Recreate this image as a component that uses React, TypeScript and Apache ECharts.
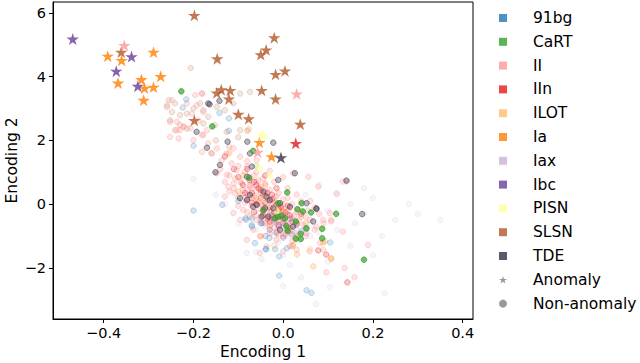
import React, { useEffect, useRef } from "react";
import * as echarts from "echarts";

// ---------- data ----------
const classNames = ["91bg", "CaRT", "II", "IIn", "ILOT", "Ia", "Iax", "Ibc", "PISN", "SLSN", "TDE"];
const classColors = ["#1f78b4", "#33a02c", "#fb9a99", "#e31a1c", "#fdbf6f", "#ff7f00", "#cab2d6", "#6a3d9a", "#ffff99", "#b15928", "#352f45"];
const circleAlpha = [0.22, 0.85, 0.33, 0.3, 0.3, 0.22, 0.16, 0.22, 0.6, 0.18, 0.45];

// non-anomaly points (Encoding 1, Encoding 2)
const pts91bg = [
  [-0.2, -0.2], [-0.121, 2.3], [-0.224, 3.03], [-0.2, 1.83], [-0.216, 3.29], [-0.142, 2.86], [-0.121, 2.69],
  [-0.136, -0.02], [-0.063, -1.22], [-0.038, -1.41], [-0.009, -1.64], [-0.009, -2.24], [0.052, -2.7], [0.063, -2.78],
  [0.105, -1.2], [-0.018, -1.41], [-0.07, -0.44], [-0.083, -0.49], [-0.07, -0.65], [-0.048, -0.59], [-0.031, -1.06],
  [0.008, -1.38], [-0.084, -0.44], [-0.07, -0.7], [-0.039, -1.41], [-0.1, 0.1], [-0.06, 1.2],
];
const ptsCaRT = [
  [-0.227, 3.54], [-0.158, 2.44], [-0.067, 1.67], [-0.076, 0.83], [0.009, 0.37], [0.041, 0.03], [-0.011, 0.03],
  [0.032, -0.16], [0.044, -0.23], [0.062, -0.26], [-0.044, -0.18], [-0.018, -0.44], [0.004, -0.44], [0.028, -0.54],
  [0.007, -0.68], [0.01, -0.83], [0.039, -0.93], [0.052, -0.76], [0.087, -0.77], [0.028, -1.08], [0.039, -1.09],
  [0.087, -1.07], [0.118, -0.3], [0.18, -1.74], [-0.012, -0.4], [-0.005, -0.36],
];
const ptsII = [
  [-0.259, 3.1], [-0.248, 3.26], [-0.215, 3.16], [-0.196, 3.42], [-0.181, 3.47], [-0.193, 3.1], [-0.178, 2.89],
  [-0.252, 2.58], [-0.237, 2.58], [-0.222, 2.43], [-0.207, 2.38], [-0.23, 2.32], [-0.181, 2.17], [-0.17, 2.32],
  [-0.204, 2.84], [-0.189, 2.63],
  [-0.237, 2.32], [-0.222, 2.43], [-0.252, 2.11], [-0.233, 2.06], [-0.2, 2.01], [-0.178, 2.17], [-0.167, 1.91],
  [-0.148, 1.75], [-0.181, 1.64], [-0.159, 1.59], [-0.126, 1.59], [-0.111, 1.75], [-0.137, 1.38], [-0.115, 1.28],
  [-0.096, 1.49], [-0.104, 1.07], [-0.081, 1.18], [-0.059, 1.38], [-0.148, 0.97], [-0.126, 0.92], [-0.107, 0.81],
  [-0.092, 0.66], [-0.074, 0.55], [-0.122, 0.55], [-0.107, 0.34], [-0.13, 0.24], [-0.089, -0.18], [-0.074, -0.39],
  [-0.059, -0.49], [-0.096, -0.49], [-0.111, -0.28], [-0.044, -0.59], [-0.03, -0.91], [-0.067, -0.8], [-0.052, -1.01],
  [-0.015, -1.12], [0.0, -0.91], [0.015, -1.32], [0.03, -1.43], [0.052, -0.91], [0.074, -0.7], [0.089, -0.49],
  [0.104, -0.28], [0.141, 0.71], [0.119, 0.34], [0.107, -0.49], [0.082, -1.22], [0.059, -1.48], [0.0, -1.48],
  [-0.037, -1.32], [-0.081, -1.12], [-0.052, -1.53],
  [-0.09, 0.45], [-0.08, 0.3], [-0.07, 0.2], [-0.06, 0.1], [-0.05, 0.0], [-0.04, -0.1], [-0.03, -0.2], [-0.02, -0.3],
  [-0.01, -0.4], [0.0, -0.5], [0.01, -0.6], [0.02, -0.7], [-0.1, 0.2], [-0.085, 0.05], [-0.07, -0.05], [-0.055, -0.15],
  [-0.045, -0.3], [-0.03, -0.45], [-0.015, -0.55], [0.0, -0.7], [0.015, -0.85], [-0.06, 0.4], [-0.045, 0.3],
  [-0.035, 0.15], [-0.02, 0.05], [-0.005, -0.05], [0.01, -0.2], [0.025, -0.35], [0.035, -0.5], [0.045, -0.65],
  [-0.075, 0.6], [-0.06, 0.7], [-0.05, 0.55], [-0.03, 0.45], [-0.015, 0.25], [0.0, 0.15], [0.02, 0.0], [0.03, -0.15],
  [0.05, -0.4], [-0.11, 0.65], [-0.12, 0.4], [-0.1, -0.05], [-0.08, -0.25], [-0.06, -0.35], [-0.04, -0.6],
  [-0.02, -0.75], [0.005, -0.95], [0.03, -1.0], [-0.065, 0.9], [-0.045, 0.8], [-0.02, 0.7], [0.01, 0.5], [0.03, 0.3],
  [0.06, 0.1], [0.07, -0.1], [0.08, -0.3], [-0.085, 1.0], [-0.03, 1.05], [0.0, 0.85],
  [0.133, 0.71], [0.078, 0.55], [0.056, 0.86], [0.107, -0.54], [0.133, -0.86], [0.089, -1.43], [0.022, 0.97],
  [0.137, -2.0], [0.096, -2.14], [0.159, -2.29], [0.189, -1.28],
];
const ptsIIcore = [
  [-0.05, 0.35], [-0.04, 0.25], [-0.03, 0.1], [-0.02, -0.05], [-0.01, -0.2], [0.0, -0.25], [0.01, -0.35], [0.02, -0.45],
  [-0.065, 0.25], [-0.055, 0.05], [-0.045, -0.05], [-0.035, -0.25], [-0.025, -0.4], [-0.01, -0.5], [0.005, -0.6],
  [0.015, -0.75], [0.025, -0.9], [-0.08, 0.45], [-0.07, 0.5], [-0.04, 0.4], [-0.02, 0.2], [0.0, 0.0], [0.015, -0.1],
  [0.03, -0.25], [0.04, -0.4], [-0.09, 0.3], [-0.095, 0.7], [-0.075, 0.85], [-0.055, 0.75], [-0.04, 0.65],
  [-0.01, 0.35], [0.01, 0.2], [0.04, 0.1], [0.055, -0.2], [0.06, -0.5], [-0.05, -0.5], [-0.03, -0.65],
  [-0.015, -0.85], [0.0, -1.0], [0.02, -1.15], [-0.12, 0.9], [-0.1, 1.2], [-0.08, 1.35], [-0.06, 1.0], [-0.11, 0.5],
  [-0.13, 0.7], [-0.14, 1.1], [0.05, -1.0], [0.07, -0.8], [0.09, -0.6],
];
const ptsIIn = [
  [-0.07, 0.35], [-0.05, 0.2], [-0.04, 0.05], [-0.03, -0.1], [-0.02, -0.25], [-0.06, 0.0], [-0.08, 0.15], [-0.045, -0.2],
  [-0.01, -0.15], [0.0, -0.35], [-0.025, 0.3], [-0.055, 0.5], [-0.09, 0.6], [-0.035, -0.45], [0.01, -0.05],
  [-0.065, -0.25], [-0.1, 0.85], [-0.015, 0.5], [0.02, -0.55], [-0.075, 0.75], [0.143, -2.45], [0.096, -1.58],
  [0.078, -1.45], [-0.11, 1.1], [-0.13, 1.5], [0.04, -0.3],
  [-0.06, 0.6], [-0.05, 0.45], [-0.035, 0.35], [-0.025, 0.15], [-0.015, 0.0], [-0.005, -0.1], [0.005, -0.25],
  [0.015, -0.35], [-0.045, -0.35], [-0.03, -0.55], [-0.01, -0.65], [0.01, -0.75], [-0.07, 0.05], [-0.085, 0.35],
  [-0.065, 0.7], [-0.04, 0.9], [-0.08, 1.1], [-0.02, -0.45], [0.0, -0.45], [0.03, -0.6],
];
const ptsILOT = [[0.01, -0.9], [-0.02, -1.3], [0.06, -1.4], [-0.045, 0.15], [0.04, -0.2]];
const ptsIa = [
  [0.021, -1.32], [0.107, -1.72], [0.067, -1.95], [0.031, -1.58], [0.089, -1.2], [-0.077, 2.35], [0.093, -1.17],
  [0.022, -1.27], [0.107, -1.69], [-0.03, -0.7], [-0.01, -0.95], [0.05, -0.6], [-0.06, 0.2], [-0.09, 0.9],
  [-0.12, 1.6], [0.0, -0.2], [-0.04, 0.6], [0.03, -1.1], [-0.05, -1.0], [-0.1, 0.4],
];
const ptsIax = [
  [-0.02, -0.6], [0.0, -0.8], [-0.03, -0.9], [0.01, -1.0], [0.02, -0.5], [-0.04, -0.7], [0.03, -0.8], [-0.01, -1.2],
  [0.04, -1.1], [-0.05, -0.4], [0.0, -0.3], [0.05, -0.9], [-0.06, -0.8], [0.02, -1.3], [-0.02, -1.0], [0.06, -0.6],
  [0.08, -0.9], [-0.03, -0.3],
  [0.08, 0.6], [0.12, 0.3], [0.15, 0.0], [0.18, -0.3], [0.2, 0.2], [0.25, -0.5], [0.3, -0.3], [0.22, -1.0],
  [0.18, 0.5], [0.28, 0.0], [0.15, -1.3], [0.1, -0.2], [0.06, -1.0], [0.12, -0.8], [0.05, 0.3], [0.0, -1.6],
  [-0.06, -1.5], [0.073, -3.13], [0.0, -2.56], [0.104, -2.6], [0.226, -2.79], [0.015, -1.9], [-0.048, -1.72],
  [-0.081, -1.53], [-0.15, 0.3], [-0.13, 0.0], [-0.1, -0.6], [-0.2, 0.8], [0.35, -0.5], [0.2, -1.6], [0.16, -0.6],
  [0.1, -1.8], [0.04, -2.3],
];
const ptsIbc = [
  [-0.01, -0.7], [0.01, -0.85], [-0.03, -0.8], [0.02, -0.95], [0.0, -1.05], [-0.02, -0.55], [0.03, -0.65],
  [-0.04, -1.0], [0.015, -0.45], [0.04, -0.85], [-0.05, -0.6], [0.0, -0.6], [-0.025, -0.35], [0.05, -0.75],
  [-0.015, -0.9],
];
const ptsPISN = [[-0.059, 1.21], [-0.052, 1.1], [-0.015, -0.2], [-0.03, 0.9]];
const ptsSLSN = [
  [-0.255, 3.26], [-0.241, 3.16], [-0.259, 3.05], [-0.248, 2.89], [-0.23, 2.79], [-0.215, 2.84], [-0.185, 3.16],
  [-0.178, 2.95], [-0.167, 2.74], [-0.2, 3.0], [-0.181, 3.47], [-0.148, 3.05], [-0.13, 2.95], [-0.096, 3.47],
  [-0.074, 3.52], [-0.111, 3.16], [-0.23, 2.48], [-0.252, 2.63], [-0.241, 2.32], [-0.215, 2.37], [-0.178, 2.53],
  [-0.152, 2.48], [-0.126, 2.27], [-0.096, 2.32], [-0.206, 4.27], [-0.15, 2.0], [-0.12, 1.8], [-0.1, 2.1],
  [-0.16, 1.6], [-0.08, 2.3],
];
const ptsTDE = [
  [-0.193, 2.27], [-0.124, 1.96], [-0.08, 1.96], [-0.022, 1.93], [-0.074, 1.59], [-0.151, 1.0], [-0.141, 1.23],
  [0.026, 0.97], [-0.011, 0.76], [-0.081, 0.86], [-0.07, 1.18], [-0.096, 0.19], [-0.081, 0.13], [-0.074, 0.29],
  [-0.059, -0.02], [-0.044, 0.39], [-0.037, 0.24], [-0.03, 0.13], [-0.041, -0.13], [-0.022, -0.13], [-0.033, -0.39],
  [-0.048, -0.39], [-0.007, 0.03], [0.015, -0.08], [0.022, -0.7], [0.052, 0.03], [0.074, -0.13], [0.067, -0.54],
  [-0.007, -0.8], [-0.067, -0.08], [0.141, 0.74], [0.176, -0.31], [0.074, -0.15], [-0.142, 3.24], [-0.164, 3.13],
  [-0.17, 1.77], [-0.167, 3.16],
];

// anomaly points (stars)
const starsII = [[-0.354, 4.98], [0.03, 3.46], [-0.057, 1.63]];
const starsIIn = [[0.028, 1.91]];
const starsIa = [
  [-0.391, 4.64], [-0.36, 4.51], [-0.289, 4.77], [-0.368, 3.8], [-0.273, 4.01], [-0.316, 3.91], [-0.309, 3.64],
  [-0.289, 3.67], [-0.311, 3.26], [-0.053, 1.94], [-0.026, 1.49],
];
const starsIbc = [[-0.469, 5.18], [-0.338, 4.63], [-0.372, 4.17], [-0.324, 3.7]];
const starsPISN = [[-0.046, 2.17]];
const starsSLSN = [
  [-0.361, 4.77], [-0.198, 5.92], [-0.02, 5.22], [-0.038, 4.84], [-0.05, 4.69], [-0.147, 4.56], [-0.017, 4.07],
  [0.004, 4.18], [-0.048, 3.57], [-0.138, 3.59], [-0.118, 3.57], [-0.148, 3.49], [-0.121, 3.3], [-0.017, 3.3],
  [-0.1, 2.82], [-0.077, 2.68], [-0.198, 2.63], [0.038, 2.51],
];
const starsTDE = [[-0.005, 1.46]];

const xTicks = [-0.4, -0.2, 0.0, 0.2, 0.4];
const yTicks = [-2, 0, 2, 4, 6];

const circleSets: Record<string, number[][]> = {
  "91bg": pts91bg, CaRT: ptsCaRT, II: ptsII.concat(ptsIIcore), IIn: ptsIIn, ILOT: ptsILOT, Ia: ptsIa,
  Iax: ptsIax, Ibc: ptsIbc, PISN: ptsPISN, SLSN: ptsSLSN, TDE: ptsTDE,
};
const starSets: Record<string, number[][]> = {
  II: starsII, IIn: starsIIn, Ia: starsIa, Ibc: starsIbc, PISN: starsPISN, SLSN: starsSLSN, TDE: starsTDE,
};
const circleOrder = ["SLSN", "II", "IIn", "Ia", "ILOT", "Iax", "Ibc", "91bg", "PISN", "TDE", "CaRT"];
const starOrder = ["SLSN", "Ia", "Ibc", "II", "PISN", "IIn", "TDE"];

// ---------- helpers ----------
const STAR =
  "path://M0,-10L2.245,-3.09L9.511,-3.09L3.633,1.18L5.878,8.09L0,3.82L-5.878,8.09L-3.633,1.18L-9.511,-3.09L-2.245,-3.09Z";
const FONT = "DejaVu Sans";

function rgba(hex: string, a: number) {
  const n = parseInt(hex.slice(1), 16);
  return `rgba(${(n >> 16) & 255},${(n >> 8) & 255},${n & 255},${a})`;
}
function colorOf(name: string) {
  return classColors[classNames.indexOf(name)];
}
function alphaOf(name: string) {
  return circleAlpha[classNames.indexOf(name)];
}
function fmt(v: number, dec: number) {
  const s = Math.abs(v).toFixed(dec);
  return v < 0 ? "\u2212" + s : s;
}

export default function App() {
  const ref = useRef<HTMLDivElement>(null);
  useEffect(() => {
    document.body.style.margin = "0";
    document.body.style.overflow = "hidden";
    if (!ref.current) return;
    const chart = echarts.init(ref.current, null, { renderer: "svg" });

    const series: any[] = [];
    circleOrder.forEach((name) => {
      const c = colorOf(name);
      const a = alphaOf(name);
      series.push({
        type: "scatter",
        name,
        data: circleSets[name],
        symbol: "circle",
        symbolSize: 5.5,
        itemStyle: { color: rgba(c, a), borderColor: rgba(c, Math.min(1, a * 1.4)), borderWidth: 1 },
        emphasis: { disabled: true },
        silent: true,
        z: 2,
      });
    });
    starOrder.forEach((name) => {
      series.push({
        type: "scatter",
        name,
        data: starSets[name],
        symbol: STAR,
        symbolKeepAspect: true,
        symbolSize: 12.5,
        itemStyle: { color: colorOf(name) },
        emphasis: { disabled: true },
        silent: true,
        z: 3,
      });
    });
    series.push({ type: "scatter", name: "Anomaly", data: [], symbol: STAR });
    series.push({ type: "scatter", name: "Non-anomaly", data: [], symbol: "circle" });

    const legendData: any[] = classNames.map((n, i) => ({
      name: n,
      icon: "rect",
      itemStyle: { color: classColors[i], borderWidth: 0 },
    }));
    legendData.push({ name: "Anomaly", icon: STAR, itemStyle: { color: "#808080", borderWidth: 0 } });
    legendData.push({ name: "Non-anomaly", icon: "circle", itemStyle: { color: "#808080", borderWidth: 0 } });

    chart.setOption({
      animation: false,
      backgroundColor: "#ffffff",
      textStyle: { fontFamily: FONT },
      grid: {
        left: 53,
        top: 2,
        width: 420,
        height: 317,
        show: true,
        borderColor: "#000",
        borderWidth: 1,
        backgroundColor: "transparent",
        containLabel: false,
        outerBoundsMode: "none",
      },
      legend: {
        orient: "vertical",
        left: 499,
        top: 10,
        padding: 0,
        itemWidth: 8,
        itemHeight: 8,
        itemGap: 7.8,
        selectedMode: false,
        data: legendData,
        textStyle: { fontFamily: FONT, fontSize: 15.5, color: "#000", lineHeight: 16, padding: [0, 0, 0, 21] },
      },
      xAxis: {
        type: "value",
        min: -0.513,
        max: 0.423,
        splitNumber: 5,
        name: "Encoding 1",
        nameLocation: "middle",
        nameGap: 25,
        nameMoveOverlap: false,
        nameTextStyle: { fontFamily: FONT, fontSize: 15.5, color: "#000" },
        axisLine: { show: true, onZero: false, lineStyle: { color: "#000", width: 1 } },
        axisTick: { show: true, inside: false, length: 4, lineStyle: { color: "#000" } },
        axisLabel: {
          show: true,
          margin: 6,
          fontFamily: FONT,
          fontSize: 14.5,
          color: "#000",
          showMinLabel: false,
          showMaxLabel: false,
          formatter: (v: number) => (xTicks.some((t) => Math.abs(t - v) < 1e-6) ? fmt(v, 1) : ""),
        },
        splitLine: { show: false },
      },
      yAxis: {
        type: "value",
        min: -3.6,
        max: 6.34,
        splitNumber: 5,
        name: "Encoding 2",
        nameLocation: "middle",
        nameGap: 33,
        nameMoveOverlap: false,
        nameTextStyle: { fontFamily: FONT, fontSize: 15.5, color: "#000" },
        axisLine: { show: true, onZero: false, lineStyle: { color: "#000", width: 1 } },
        axisTick: { show: true, inside: false, length: 4, lineStyle: { color: "#000" } },
        axisLabel: {
          show: true,
          margin: 7,
          fontFamily: FONT,
          fontSize: 14.5,
          color: "#000",
          showMinLabel: false,
          showMaxLabel: false,
          formatter: (v: number) => (yTicks.some((t) => Math.abs(t - v) < 1e-6) ? fmt(v, 0) : ""),
        },
        splitLine: { show: false },
      },
      series,
    });
    return () => chart.dispose();
  }, []);
  return <div ref={ref} style={{ position: "absolute", left: 0, top: 0, width: 640, height: 363 }} />;
}
